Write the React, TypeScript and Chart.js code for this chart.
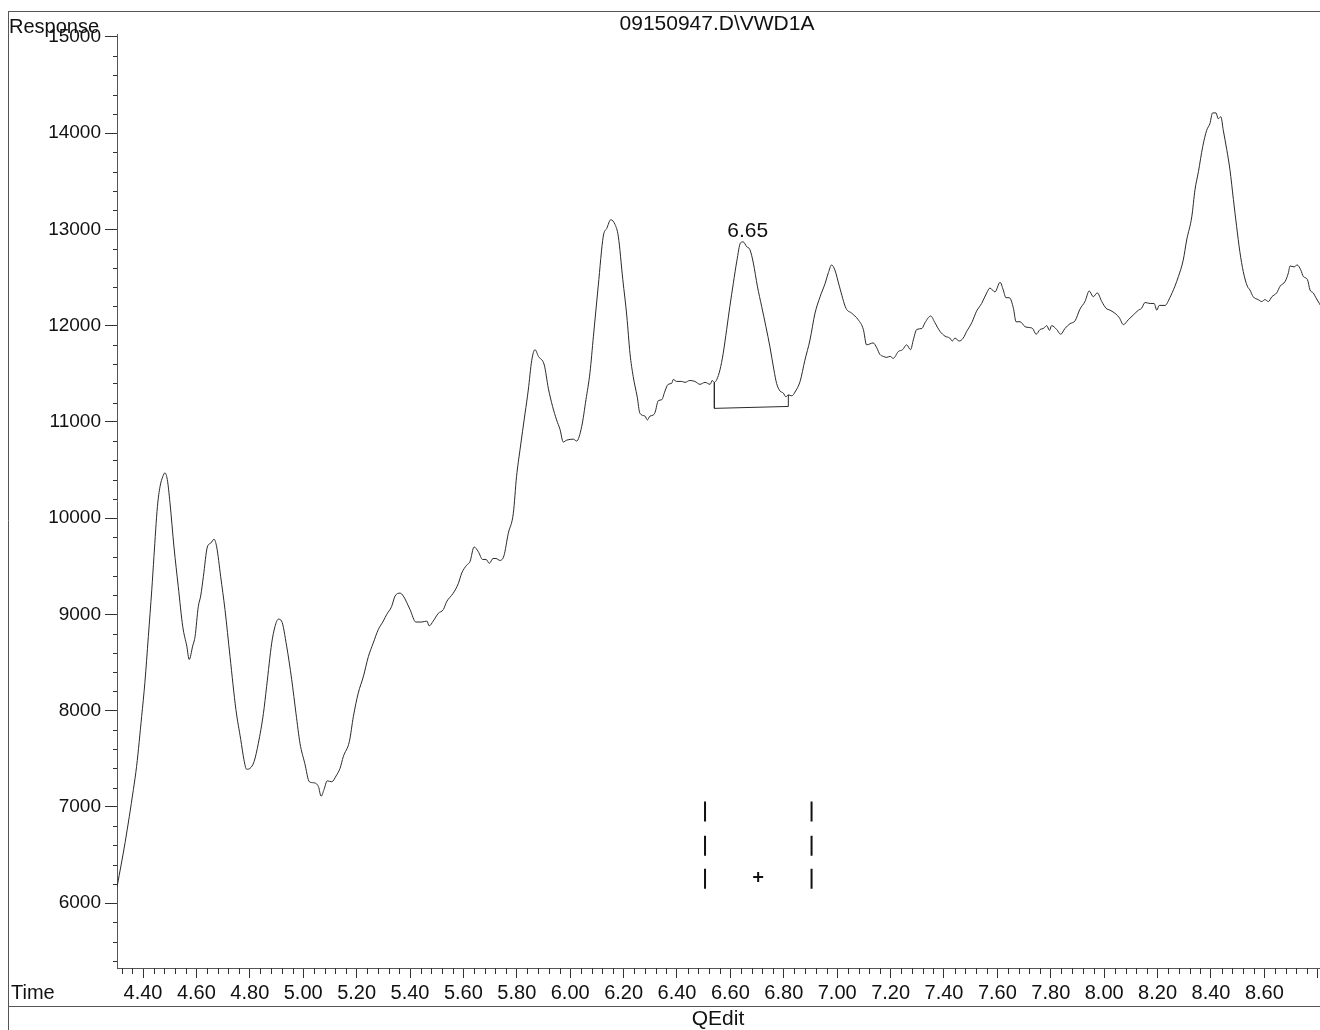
import React, { useEffect, useRef } from 'react';
import { Chart, registerables } from 'chart.js';

Chart.register(...registerables);

// ---- Data ----
const times = [
  4.303, 4.333, 4.364, 4.376, 4.395, 4.407, 4.420, 4.433, 4.441, 4.454,
  4.464, 4.474, 4.482, 4.491, 4.501, 4.516, 4.532, 4.549, 4.564, 4.573,
  4.586, 4.595, 4.607, 4.616, 4.626, 4.641, 4.654, 4.666, 4.676, 4.691,
  4.707, 4.726, 4.748, 4.766, 4.778, 4.788, 4.801, 4.816, 4.832, 4.851,
  4.863, 4.882, 4.894, 4.907, 4.919, 4.938, 4.957, 4.973, 4.988, 5.006,
  5.023, 5.038, 5.057, 5.067, 5.078, 5.090, 5.107, 5.123, 5.138, 5.150,
  5.173, 5.188, 5.206, 5.225, 5.244, 5.262, 5.281, 5.300, 5.313, 5.331,
  5.344, 5.363, 5.375, 5.400, 5.422, 5.444, 5.463, 5.472, 5.487, 5.506,
  5.525, 5.537, 5.562, 5.581, 5.594, 5.612, 5.625, 5.640, 5.656, 5.672,
  5.685, 5.697, 5.711, 5.722, 5.737, 5.752, 5.768, 5.787, 5.799, 5.812,
  5.831, 5.843, 5.856, 5.868, 5.881, 5.903, 5.918, 5.934, 5.949, 5.962,
  5.974, 5.987, 6.012, 6.024, 6.043, 6.059, 6.074, 6.087, 6.105, 6.124,
  6.137, 6.152, 6.168, 6.180, 6.197, 6.212, 6.224, 6.236, 6.251, 6.261,
  6.280, 6.289, 6.299, 6.311, 6.318, 6.330, 6.343, 6.355, 6.367, 6.380,
  6.386, 6.399, 6.417, 6.430, 6.448, 6.467, 6.486, 6.505, 6.524, 6.532,
  6.540, 6.549, 6.561, 6.573, 6.586, 6.598, 6.611, 6.624, 6.638, 6.648,
  6.661, 6.673, 6.686, 6.701, 6.717, 6.733, 6.748, 6.763, 6.773, 6.786,
  6.798, 6.808, 6.817, 6.830, 6.842, 6.861, 6.879, 6.898, 6.917, 6.936,
  6.955, 6.967, 6.979, 6.991, 7.008, 7.033, 7.054, 7.079, 7.098, 7.110,
  7.135, 7.148, 7.160, 7.173, 7.185, 7.198, 7.210, 7.229, 7.245, 7.260,
  7.275, 7.285, 7.298, 7.317, 7.329, 7.350, 7.366, 7.385, 7.404, 7.422,
  7.431, 7.441, 7.457, 7.472, 7.485, 7.504, 7.522, 7.541, 7.560, 7.572,
  7.591, 7.610, 7.622, 7.632, 7.645, 7.660, 7.670, 7.685, 7.703, 7.719,
  7.732, 7.745, 7.760, 7.772, 7.785, 7.795, 7.803, 7.822, 7.837, 7.853,
  7.872, 7.891, 7.909, 7.928, 7.944, 7.959, 7.974, 7.991, 8.007, 8.022,
  8.044, 8.057, 8.072, 8.090, 8.109, 8.128, 8.140, 8.153, 8.172, 8.187,
  8.197, 8.206, 8.228, 8.246, 8.265, 8.278, 8.296, 8.309, 8.328, 8.340,
  8.353, 8.369, 8.384, 8.396, 8.406, 8.419, 8.427, 8.437, 8.446, 8.459,
  8.471, 8.484, 8.496, 8.508, 8.521, 8.536, 8.546, 8.558, 8.577, 8.590,
  8.602, 8.615, 8.628, 8.646, 8.659, 8.678, 8.690, 8.696, 8.711, 8.723,
  8.736, 8.746, 8.761, 8.771, 8.783, 8.793, 8.806, 8.816,
];

const responses = [
  6170, 6630, 7180, 7420, 7940, 8290, 8770, 9260, 9600, 10120,
  10330, 10430, 10470, 10400, 10160, 9700, 9290, 8870, 8670, 8530,
  8670, 8770, 9080, 9190, 9390, 9700, 9740, 9780, 9700, 9390,
  9050, 8560, 8010, 7700, 7490, 7390, 7400, 7470, 7660, 7970,
  8250, 8700, 8870, 8950, 8930, 8670, 8320, 7970, 7660, 7450,
  7260, 7250, 7210, 7110, 7180, 7270, 7260, 7320, 7400, 7520,
  7680, 7940, 8180, 8350, 8560, 8700, 8840, 8930, 9000, 9080,
  9190, 9220, 9190, 9050, 8920, 8920, 8930, 8880, 8930, 9010,
  9050, 9130, 9220, 9320, 9430, 9510, 9550, 9700, 9650, 9570,
  9570, 9530, 9580, 9580, 9560, 9610, 9840, 10050, 10430, 10710,
  11090, 11330, 11640, 11750, 11680, 11590, 11350, 11160, 11020, 10920,
  10790, 10810, 10820, 10800, 10950, 11230, 11510, 11890, 12410, 12930,
  13010, 13100, 13050, 12930, 12480, 12100, 11710, 11470, 11260, 11090,
  11060, 11020, 11060, 11070, 11100, 11220, 11230, 11320, 11390, 11400,
  11440, 11420, 11420, 11410, 11430, 11420, 11390, 11410, 11390, 11430,
  11410, 11440, 11540, 11710, 11960, 12200, 12440, 12670, 12860, 12870,
  12820, 12790, 12650, 12410, 12200, 11990, 11780, 11540, 11400, 11320,
  11300, 11260, 11280, 11270, 11310, 11420, 11640, 11850, 12130, 12300,
  12440, 12550, 12630, 12580, 12410, 12180, 12130, 12060, 11960, 11800,
  11820, 11770, 11700, 11680, 11670, 11680, 11660, 11730, 11750, 11800,
  11750, 11850, 11960, 11970, 12030, 12100, 12030, 11940, 11890, 11870,
  11840, 11870, 11840, 11870, 11940, 12030, 12150, 12230, 12340, 12390,
  12350, 12450, 12370, 12290, 12290, 12180, 12040, 12040, 11990, 11980,
  11970, 11910, 11960, 11970, 12000, 11950, 12000, 11960, 11910, 11970,
  12020, 12050, 12170, 12250, 12360, 12300, 12340, 12250, 12180, 12160,
  12120, 12080, 12010, 12060, 12110, 12160, 12180, 12240, 12230, 12230,
  12160, 12210, 12210, 12290, 12410, 12510, 12680, 12890, 13130, 13410,
  13600, 13860, 14030, 14100, 14210, 14210, 14150, 14170, 14030, 13830,
  13620, 13310, 13030, 12770, 12560, 12410, 12370, 12300, 12270, 12250,
  12270, 12250, 12300, 12340, 12410, 12460, 12550, 12620, 12610, 12630,
  12580, 12510, 12480, 12370, 12340, 12290, 12230, 12180,
];

// Integration baseline drawn under the 6.65 peak
const baselineTimes = [6.540, 6.540, 6.817, 6.817];
const baselineResponses = [11410, 11140, 11160, 11280];

// Integration window markers (dashed bars) and the "+" cursor
const markerTimes = [6.505, 6.904];
const markerSegmentTops = [7056, 6699, 6356];
const markerSegmentBottoms = [6848, 6491, 6148];
const cursorTime = 6.704;
const cursorResponse = 6270;

// Peak label
const peakLabel = '6.65';
const peakLabelTime = 6.665;
const peakLabelResponse = 12980;

// Axes
const xMin = 4.3026;
const xMax = 8.8083;
const yMin = 5325;
const yMax = 15030;
const xTickValues = [4.4, 4.6, 4.8, 5.0, 5.2, 5.4, 5.6, 5.8, 6.0, 6.2, 6.4, 6.6, 6.8, 7.0, 7.2, 7.4, 7.6, 7.8, 8.0, 8.2, 8.4, 8.6, 8.8];
const xLabelledMax = 8.6;
const yTickValues = [6000, 7000, 8000, 9000, 10000, 11000, 12000, 13000, 14000, 15000];
const xMinorStep = 0.04;
const yMinorStep = 200;

const titleText = '09150947.D\\VWD1A';
const yAxisTitle = 'Response';
const xAxisTitle = 'Time';
const footerText = 'QEdit';

const FONT = '"Liberation Sans", Arial, Helvetica, sans-serif';
const W = 1320;
const H = 1030;

export default function App() {
  const ref = useRef<HTMLCanvasElement | null>(null);

  useEffect(() => {
    const canvas = ref.current;
    if (!canvas) return;

    const trace = times.map((t, i) => ({ x: t, y: responses[i] }));
    const baseline = baselineTimes.map((t, i) => ({ x: t, y: baselineResponses[i] }));
    const markers: { x: number; y: number | null }[] = [];
    markerTimes.forEach((t) => {
      markerSegmentTops.forEach((top, i) => {
        markers.push({ x: t, y: top });
        markers.push({ x: t, y: markerSegmentBottoms[i] });
        markers.push({ x: t, y: null });
      });
    });

    const decor = {
      id: 'decor',
      afterDraw(chart: any) {
        const ctx = chart.ctx as CanvasRenderingContext2D;
        const xs = chart.scales.x;
        const ys = chart.scales.y;
        ctx.save();
        // page frame
        ctx.strokeStyle = '#555';
        ctx.lineWidth = 1;
        ctx.beginPath();
        ctx.moveTo(8, 11.5);
        ctx.lineTo(W, 11.5);
        ctx.moveTo(8.5, 11);
        ctx.lineTo(8.5, H);
        ctx.moveTo(8, 1006.5);
        ctx.lineTo(W, 1006.5);
        ctx.stroke();

        // minor ticks
        ctx.strokeStyle = '#333';
        ctx.beginPath();
        const kStart = Math.ceil(xs.min / xMinorStep);
        const kEnd = Math.floor(xs.max / xMinorStep);
        for (let k = kStart; k <= kEnd; k++) {
          if (k % 5 === 0) continue;
          const px = Math.round(xs.getPixelForValue(k * xMinorStep)) + 0.5;
          ctx.moveTo(px, xs.top);
          ctx.lineTo(px, xs.top + 6);
        }
        const jStart = Math.ceil(ys.min / yMinorStep);
        const jEnd = Math.floor(ys.max / yMinorStep);
        for (let j = jStart; j <= jEnd; j++) {
          if (j % 5 === 0) continue;
          const py = Math.round(ys.getPixelForValue(j * yMinorStep)) + 0.5;
          ctx.moveTo(ys.right - 4, py);
          ctx.lineTo(ys.right, py);
        }
        ctx.stroke();

        // texts
        ctx.fillStyle = '#111';
        ctx.textBaseline = 'alphabetic';
        ctx.font = `20px ${FONT}`;
        ctx.textAlign = 'left';
        ctx.fillText(yAxisTitle, 9, 33);
        ctx.fillText(xAxisTitle, 11, 999);
        ctx.textAlign = 'center';
        ctx.font = `21px ${FONT}`;
        ctx.fillText(titleText, 717, 30);
        ctx.fillText(footerText, 718, 1025);
        ctx.textBaseline = 'middle';
        ctx.fillText(peakLabel, xs.getPixelForValue(peakLabelTime), ys.getPixelForValue(peakLabelResponse));
        ctx.restore();
      },
    };

    const chart = new Chart(canvas, {
      type: 'line',
      data: {
        datasets: [
          {
            data: trace,
            borderColor: '#2a2a2a',
            borderWidth: 1,
            pointRadius: 0,
            cubicInterpolationMode: 'monotone',
          },
          {
            data: baseline,
            borderColor: '#2a2a2a',
            borderWidth: 1,
            pointRadius: 0,
            tension: 0,
          },
          {
            data: markers as any,
            borderColor: '#111',
            borderWidth: 2,
            pointRadius: 0,
            spanGaps: false,
            tension: 0,
          },
          {
            data: [{ x: cursorTime, y: cursorResponse }],
            showLine: false,
            pointStyle: 'cross',
            pointRadius: 5,
            pointHoverRadius: 5,
            borderColor: '#111',
            borderWidth: 2,
          } as any,
        ],
      },
      options: {
        responsive: false,
        animation: false,
        parsing: true,
        events: [],
        layout: { autoPadding: false, padding: { top: 34, left: 0, right: 0, bottom: 0 } },
        plugins: {
          legend: { display: false },
          title: { display: false },
          tooltip: { enabled: false },
        },
        scales: {
          x: {
            type: 'linear',
            min: xMin,
            max: xMax,
            afterBuildTicks: (scale: any) => {
              scale.ticks = xTickValues.map((v) => ({ value: v }));
            },
            afterFit: (scale: any) => {
              scale.height = 62;
              scale.paddingLeft = 0;
              scale.paddingRight = 0;
            },
            ticks: {
              autoSkip: false,
              maxRotation: 0,
              padding: 3,
              color: '#111',
              font: { family: FONT, size: 20 },
              callback: (v: any) => (Number(v) > xLabelledMax + 0.01 ? '' : Number(v).toFixed(2)),
            },
            grid: { drawOnChartArea: false, drawTicks: true, tickLength: 10, color: '#333', lineWidth: 1 },
            border: { display: true, color: '#555', width: 1 },
          },
          y: {
            type: 'linear',
            min: yMin,
            max: yMax,
            afterBuildTicks: (scale: any) => {
              scale.ticks = yTickValues.map((v) => ({ value: v }));
            },
            afterFit: (scale: any) => {
              scale.width = 117;
              scale.paddingTop = 0;
              scale.paddingBottom = 0;
            },
            ticks: {
              autoSkip: false,
              padding: 4,
              color: '#111',
              font: { family: FONT, size: 19 },
              callback: (v: any) => String(Math.round(Number(v))),
            },
            grid: { drawOnChartArea: false, drawTicks: true, tickLength: 12, color: '#333', lineWidth: 1 },
            border: { display: true, color: '#555', width: 1 },
          },
        },
      },
      plugins: [decor],
    } as any);

    return () => chart.destroy();
  }, []);

  return (
    <div style={{ position: 'fixed', left: 0, top: 0, width: W, height: H, background: '#fff' }}>
      <canvas ref={ref} width={W} height={H} style={{ display: 'block' }} />
    </div>
  );
}
